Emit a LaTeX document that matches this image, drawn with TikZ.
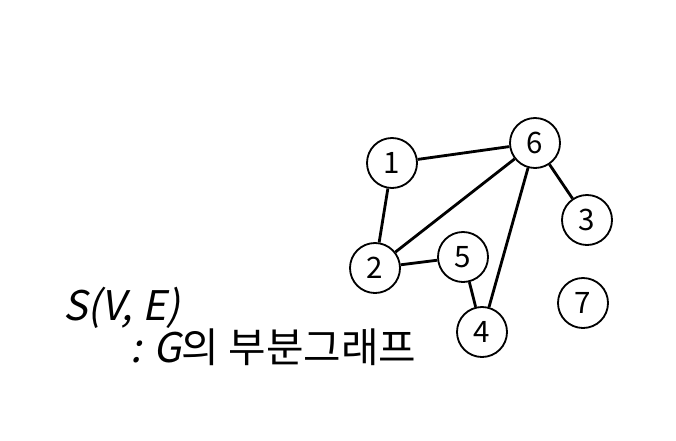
\documentclass[tikz,border=0pt]{standalone}
\usepackage{fontspec}
\setmainfont{Noto Sans CJK KR}[AutoFakeSlant=0.2]
\usetikzlibrary{positioning}
\tikzset{
  vertex/.style={
    draw, circle, line width=1.3pt,
    minimum size=1.25cm, inner sep=0pt,
    font=\fontsize{21}{21}\selectfont
  },
  edge line/.style={
    line width=2pt, draw=black
  },
  title text/.style={
    anchor=base west, inner sep=0pt,
    font=\fontsize{29}{29}\selectfont
  },
}
\begin{document}
\begin{tikzpicture}[x=0.025cm, y=-0.025cm]
  \useasboundingbox (0,0) rectangle (676,440);

  % vertices
  \node[vertex] (v1) at (392,163) {1};
  \node[vertex] (v6) at (535,143) {6};
  \node[vertex] (v3) at (587,220) {3};
  \node[vertex] (v2) at (375,268) {2};
  \node[vertex] (v5) at (463,257) {5};
  \node[vertex] (v4) at (482,332) {4};
  \node[vertex] (v7) at (583,303) {7};

  % edges
  \draw[edge line] (v1) -- (v6);
  \draw[edge line] (v1) -- (v2);
  \draw[edge line] (v2) -- (v6);
  \draw[edge line] (v2) -- (v5);
  \draw[edge line] (v5) -- (v4);
  \draw[edge line] (v6) -- (v4);
  \draw[edge line] (v6) -- (v3);

  % caption
  \node[title text] (sname) at (63,320) {\textit{S(V, E)}};
  \node[title text] (sdesc) at (130,362) {\textit{: G}의 부분그래프};

\end{tikzpicture}
\end{document}
